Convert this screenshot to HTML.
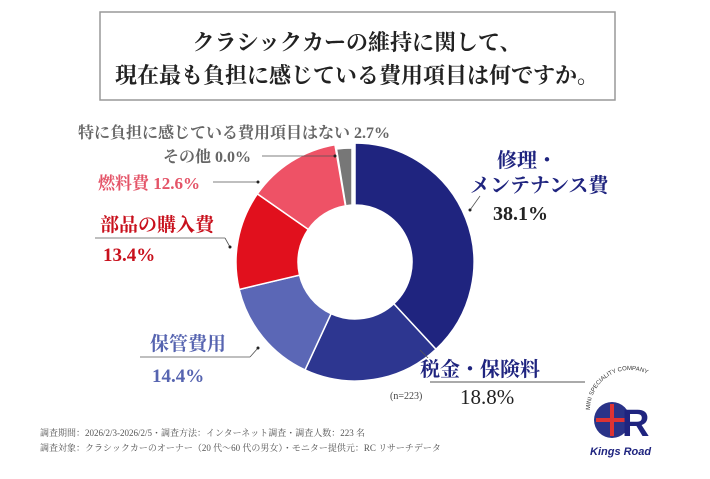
<!DOCTYPE html>
<html><head><meta charset="utf-8"><style>
body{margin:0;background:#fff;width:710px;height:474px;overflow:hidden;font-family:"Liberation Serif","Noto Serif CJK SC",serif}
</style></head><body>
<svg width="710" height="474" viewBox="0 0 710 474" xmlns="http://www.w3.org/2000/svg" font-family="Liberation Serif, Noto Serif CJK SC, serif">
<rect x="100" y="12" width="515" height="88" fill="#fff" stroke="#999" stroke-width="1.5"/>
<text x="357" y="50" text-anchor="middle" font-size="22" font-weight="bold" fill="#222">クラシックカーの維持に関して、</text>
<text x="357" y="83" text-anchor="middle" font-size="22" font-weight="bold" fill="#222">現在最も負担に感じている費用項目は何ですか。</text>
<g stroke="#fff" stroke-width="1.5">
<path d="M355,143 A119,119 0 0 1 435.93,349.25 L393.77,303.79 A57,57 0 0 0 355,205 Z" fill="#1f247f"/>
<path d="M435.93,349.25 A119,119 0 0 1 305.01,369.99 L331.05,313.73 A57,57 0 0 0 393.77,303.79 Z" fill="#2d3690"/>
<path d="M305.01,369.99 A119,119 0 0 1 239.2,289.42 L299.53,275.13 A57,57 0 0 0 331.05,313.73 Z" fill="#5b67b6"/>
<path d="M239.2,289.42 A119,119 0 0 1 257.42,193.88 L308.26,229.37 A57,57 0 0 0 299.53,275.13 Z" fill="#e1101d"/>
<path d="M257.42,193.88 A119,119 0 0 1 334.91,144.7 L345.38,205.81 A57,57 0 0 0 308.26,229.37 Z" fill="#ee5266"/>
<path d="M336.5,149 A113,113 0 0 1 352,148 L352,205 A57,57 0 0 0 345.8,205.8 Z" fill="#777"/>
</g>
<g stroke="#555" stroke-width="0.8" fill="none">
<line x1="262" y1="156" x2="335" y2="156"/>
<line x1="213" y1="182" x2="258" y2="182"/>
<line x1="95" y1="238" x2="225" y2="238"/><line x1="225" y1="238" x2="230" y2="247"/>
<line x1="140" y1="357" x2="250" y2="357"/><line x1="250" y1="357" x2="258" y2="348"/>
<line x1="470" y1="210" x2="480" y2="196"/>
<line x1="420" y1="350" x2="428" y2="358"/>
<line x1="430" y1="382" x2="585" y2="382" stroke="#aaa" stroke-width="2"/>
</g>
<g fill="#222"><circle cx="335" cy="156" r="1.5"/><circle cx="258" cy="182" r="1.5"/><circle cx="230" cy="247" r="1.5"/><circle cx="258" cy="348" r="1.5"/><circle cx="470" cy="210" r="1.5"/></g>
<text x="78" y="138" font-size="16" font-weight="bold" fill="#666">特に負担に感じている費用項目はない 2.7%</text>
<text x="163" y="162" font-size="16" font-weight="bold" fill="#666">その他 0.0%</text>
<text x="98" y="189" font-size="17" font-weight="bold" fill="#e45468">燃料費 12.6%</text>
<text x="100" y="231" font-size="19" font-weight="bold" fill="#c8101c">部品の購入費</text>
<text x="103" y="261" font-size="19" font-weight="bold" fill="#c8101c">13.4%</text>
<text x="150" y="350" font-size="19" font-weight="bold" fill="#5664b0">保管費用</text>
<text x="152" y="382" font-size="19" font-weight="bold" fill="#5664b0">14.4%</text>
<text x="497" y="167" font-size="20" font-weight="bold" fill="#1f247f">修理・</text>
<text x="470" y="192" font-size="20" font-weight="bold" fill="#1f247f">メンテナンス費</text>
<text x="493" y="220" font-size="20" font-weight="bold" fill="#222">38.1%</text>
<text x="420" y="376" font-size="20" font-weight="bold" fill="#1f247f">税金・保険料</text>
<text x="460" y="404" font-size="21" fill="#222">18.8%</text>
<text x="390" y="399" font-size="10" fill="#444">(n=223)</text>
<text x="40" y="436" font-size="9" fill="#555">調査期間：2026/2/3-2026/2/5・調査方法：インターネット調査・調査人数：223 名</text>
<text x="40" y="451" font-size="9" fill="#555">調査対象：クラシックカーのオーナー（20 代～60 代の男女）・モニター提供元：RC リサーチデータ</text>
<g>
<circle cx="612" cy="420" r="18" fill="#2a3388"/>
<path d="M596,420 L628,420 M612,404 L612,436" stroke="#d33" stroke-width="4"/>
<text x="622" y="436" font-size="38" font-weight="bold" fill="#1f247f" font-family="Liberation Sans, sans-serif">R</text>
<text x="590" y="455" font-size="11" font-weight="bold" fill="#1f247f" font-family="Liberation Sans, sans-serif" font-style="italic">Kings Road</text>
<path id="arc" d="M590,410 A40,40 0 0 1 670,410" fill="none"/>
<text font-size="6" fill="#333" font-family="Liberation Sans, sans-serif"><textPath href="#arc">MINI SPECIALITY COMPANY</textPath></text>
</g>
</svg>
</body></html>
